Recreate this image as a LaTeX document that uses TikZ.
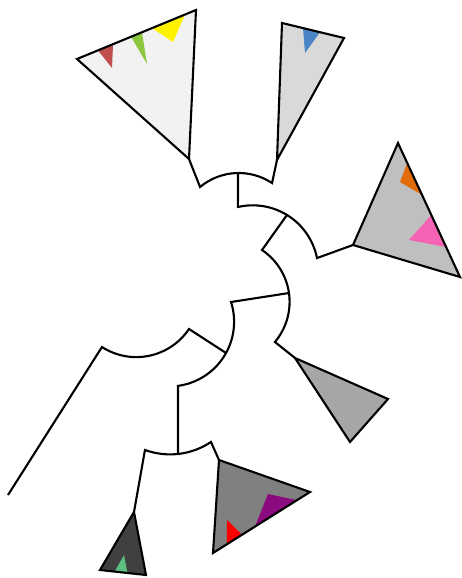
\documentclass[tikz,border=0pt]{standalone}
\usepackage{xcolor}
\usetikzlibrary{calc}

\definecolor{cladeA}{HTML}{F2F2F2}
\definecolor{cladeB}{HTML}{D9D9D9}
\definecolor{cladeC}{HTML}{BFBFBF}
\definecolor{cladeD}{HTML}{A6A6A6}
\definecolor{cladeE}{HTML}{808080}
\definecolor{cladeF}{HTML}{404040}
\definecolor{brick}{HTML}{C0504D}
\definecolor{lime}{HTML}{8DC63F}
\definecolor{lemon}{HTML}{FFF200}
\definecolor{steel}{HTML}{4A86C5}
\definecolor{tangerine}{HTML}{E36C0A}
\definecolor{rose}{HTML}{F564B4}
\definecolor{plum}{HTML}{8B0A7E}
\definecolor{scarlet}{HTML}{FF0000}
\definecolor{mint}{HTML}{5CBF80}

\begin{document}
\begin{tikzpicture}[
    x=1pt,
    y=-1pt,
    branch/.style={
        draw,
        line width=2.1pt,
        line join=miter
    },
    clade/.style={
        draw,
        line width=2.1pt,
        line join=miter
    }
]
\useasboundingbox (0,0) rectangle (462,578);

% Arc centres
\coordinate (cA) at (238.7,233.4);
\coordinate (cE) at (252.7,270.9);
\coordinate (cB) at (227.2,301.8);
\coordinate (cX) at (169.3,321.7);
\coordinate (cC) at (136.3,293.7);
\coordinate (cD) at (170.1,380.9);

% Points on the arcs
\coordinate (a1) at ($(cA)+(-129.8:60.4)$);
\coordinate (a2) at ($(cA)+(-90.7:60.4)$);
\coordinate (e1) at ($(cE)+(-103.0:65.6)$);
\coordinate (e2) at ($(cE)+(-58.5:65.6)$);
\coordinate (b1) at ($(cB)+(-56.1:62.4)$);
\coordinate (b2) at ($(cB)+(-8.1:62.4)$);
\coordinate (x1) at ($(cX)+(-17.7:64.8)$);
\coordinate (x2) at ($(cX)+(28.9:64.8)$);
\coordinate (c1) at ($(cC)+(122.8:63.4)$);
\coordinate (d1) at ($(cD)+(110.0:73.5)$);
\coordinate (d2) at ($(cD)+(83.8:73.5)$);

% Clade corners
\coordinate (t1) at (189,159);
\coordinate (t1b) at (77,59);
\coordinate (t1c) at (196,10);
\coordinate (t2) at (277,160);
\coordinate (t2b) at (282,23);
\coordinate (t2c) at (344,38);
\coordinate (t3) at (353,245);
\coordinate (t3b) at (398,143);
\coordinate (t3c) at (460,277);
\coordinate (t4) at (295,358);
\coordinate (t4b) at (388,399);
\coordinate (t4c) at (350,442);
\coordinate (t5) at (219,460);
\coordinate (t5b) at (310,492);
\coordinate (t5c) at (213,553);
\coordinate (t6) at (134,512);
\coordinate (t6b) at (100,570);
\coordinate (t6c) at (146,575);
\coordinate (leaf) at (8,495);

% Branches
\draw[branch] (t1) -- (a1) arc[start angle=-129.8, end angle=-56.5, radius=60.4] -- (t2);
\draw[branch] (a2) -- (e1) arc[start angle=-103.0, end angle=-11.3, radius=65.6] -- (t3);
\draw[branch] (e2) -- (b1) arc[start angle=-56.1, end angle=40.1, radius=62.4] -- (t4);
\draw[branch] (b2) -- (x1) arc[start angle=-17.7, end angle=82.3, radius=64.8] -- (d2);
\draw[branch] (leaf) -- (c1) arc[start angle=122.8, end angle=33.8, radius=63.4] -- (x2);
\draw[branch] (t6) -- (d1) arc[start angle=110.0, end angle=56.2, radius=73.5] -- (t5);

% Collapsed clades
\fill[cladeA] (t1) -- (t1b) -- (t1c) -- cycle;
\fill[brick] ($(t1b)!0.176!(t1c)$) -- ($(t1b)!0.303!(t1c)$) -- (112,68) -- cycle;
\fill[lime] ($(t1b)!0.454!(t1c)$) -- ($(t1b)!0.546!(t1c)$) -- (147,64) -- cycle;
\fill[lemon] ($(t1b)!0.630!(t1c)$) -- ($(t1b)!0.908!(t1c)$) -- (173,42) -- cycle;
\draw[clade] (t1) -- (t1b) -- (t1c) -- cycle;

\fill[cladeB] (t2) -- (t2b) -- (t2c) -- cycle;
\fill[steel] ($(t2b)!0.339!(t2c)$) -- ($(t2b)!0.613!(t2c)$) -- (305,53) -- cycle;
\draw[clade] (t2) -- (t2b) -- (t2c) -- cycle;

\fill[cladeC] (t3) -- (t3b) -- (t3c) -- cycle;
\fill[tangerine] ($(t3b)!0.149!(t3c)$) -- ($(t3b)!0.388!(t3c)$) -- (400,182) -- cycle;
\fill[rose] ($(t3b)!0.537!(t3c)$) -- ($(t3b)!0.776!(t3c)$) -- (409,240) -- cycle;
\draw[clade] (t3) -- (t3b) -- (t3c) -- cycle;

\filldraw[clade, fill=cladeD] (t4) -- (t4b) -- (t4c) -- cycle;

\fill[cladeE] (t5) -- (t5b) -- (t5c) -- cycle;
\fill[plum] (268,494) -- ($(t5b)!0.134!(t5c)$) -- ($(t5b)!0.567!(t5c)$) -- cycle;
\fill[scarlet] (227,520) -- ($(t5b)!0.701!(t5c)$) -- ($(t5b)!0.856!(t5c)$) -- cycle;
\draw[clade] (t5) -- (t5b) -- (t5c) -- cycle;

\fill[cladeF] (t6) -- (t6b) -- (t6c) -- cycle;
\fill[mint] ($(t6b)!0.319!(t6c)$) -- ($(t6b)!0.596!(t6c)$) -- (124,555) -- cycle;
\draw[clade] (t6) -- (t6b) -- (t6c) -- cycle;

\end{tikzpicture}
\end{document}
